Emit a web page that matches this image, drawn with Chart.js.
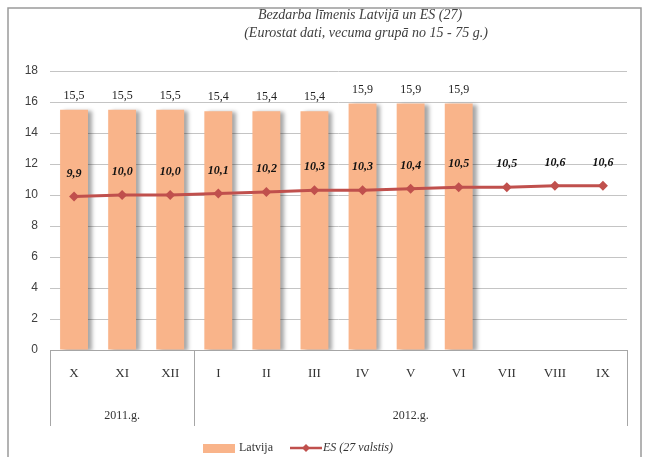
<!DOCTYPE html>
<html lang="lv">
<head>
<meta charset="UTF-8">
<title>Bezdarba līmenis Latvijā un ES (27)</title>
<script src="https://cdn.jsdelivr.net/npm/chart.js"></script>
<style>
  html, body { margin: 0; padding: 0; background: #fff; }
  #wrap { width: 652px; height: 457px; }
</style>
</head>
<body>
<div id="wrap"><canvas id="chart" width="652" height="457"></canvas></div>
<script>
// dati
var months = ['X', 'XI', 'XII', 'I', 'II', 'III', 'IV', 'V', 'VI', 'VII', 'VIII', 'IX'];
var latvija = [15.5, 15.5, 15.5, 15.4, 15.4, 15.4, 15.9, 15.9, 15.9, null, null, null];
var es27 = [9.9, 10.0, 10.0, 10.1, 10.2, 10.3, 10.3, 10.4, 10.5, 10.5, 10.6, 10.6];
var years = ['2011.g.', '2012.g.'];
var yearSpans = [3, 9];
var titleLines = ['Bezdarba līmenis Latvijā un ES (27)', '(Eurostat dati, vecuma grupā no 15 - 75 g.)'];
var legendNames = ['Latvija', 'ES (27 valstis)'];

var barColor = '#F9B48A';
var lineColor = '#C0504D';
var serif = '"Liberation Serif", "DejaVu Serif", serif';

function fmt(v) { return v.toFixed(1).replace('.', ','); }

var extras = {
    id: 'extras',
    beforeDatasetDraw: function(chart, args) {
        if (args.index === 0) {
            var ctx = chart.ctx;
            ctx.save();
            ctx.shadowColor = 'rgba(0,0,0,0.35)';
            ctx.shadowOffsetX = 4;
            ctx.shadowOffsetY = 1;
            ctx.shadowBlur = 4;
        }
    },
    afterDatasetDraw: function(chart, args) {
        if (args.index === 0) chart.ctx.restore();
    },
    afterDraw: function(chart) {
        var ctx = chart.ctx;
        var area = chart.chartArea;
        ctx.save();

        // rāmis
        ctx.strokeStyle = '#9a9a9a';
        ctx.lineWidth = 1.5;
        ctx.strokeRect(8, 8, 633, 470);

        // virsraksts
        ctx.fillStyle = '#404040';
        ctx.font = 'italic 14px ' + serif;
        ctx.textAlign = 'center';
        ctx.textBaseline = 'middle';
        ctx.fillText(titleLines[0], 360, 15);
        ctx.fillText(titleLines[1], 366, 33);

        // gadu rinda
        var bottom = area.bottom + 76;
        var step = (area.right - area.left) / months.length;
        ctx.strokeStyle = '#a6a6a6';
        ctx.lineWidth = 1;
        var start = 0;
        var edges = [area.left];
        for (var i = 0; i < years.length; i++) {
            var x0 = area.left + start * step;
            var x1 = area.left + (start + yearSpans[i]) * step;
            edges.push(x1);
            ctx.fillStyle = '#333';
            ctx.font = '12px ' + serif;
            ctx.fillText(years[i], (x0 + x1) / 2, area.bottom + 66);
            start += yearSpans[i];
        }
        edges.forEach(function(ex) {
            ctx.beginPath();
            ctx.moveTo(Math.round(ex) + 0.5, area.bottom);
            ctx.lineTo(Math.round(ex) + 0.5, bottom);
            ctx.stroke();
        });

        // vērtību uzraksti
        var barMeta = chart.getDatasetMeta(0);
        ctx.font = '12px ' + serif;
        ctx.fillStyle = '#222';
        barMeta.data.forEach(function(el, i) {
            if (latvija[i] == null) return;
            ctx.fillText(fmt(latvija[i]), el.x, el.y - 14);
        });
        var lineMeta = chart.getDatasetMeta(1);
        ctx.font = 'italic bold 12px ' + serif;
        ctx.fillStyle = '#111';
        lineMeta.data.forEach(function(el, i) {
            ctx.fillText(fmt(es27[i]), el.x, el.y - 23);
        });

        // leģenda
        var ly = 448;
        ctx.textAlign = 'left';
        ctx.fillStyle = barColor;
        ctx.fillRect(203, ly - 4, 32, 9);
        ctx.fillStyle = '#333';
        ctx.font = '12px ' + serif;
        ctx.fillText(legendNames[0], 239, ly);
        ctx.strokeStyle = lineColor;
        ctx.lineWidth = 2.5;
        ctx.beginPath(); ctx.moveTo(290, ly); ctx.lineTo(322, ly); ctx.stroke();
        ctx.fillStyle = lineColor;
        ctx.beginPath();
        ctx.moveTo(306, ly - 4); ctx.lineTo(310, ly); ctx.lineTo(306, ly + 4); ctx.lineTo(302, ly);
        ctx.closePath(); ctx.fill();
        ctx.fillStyle = '#333';
        ctx.font = 'italic 12px ' + serif;
        ctx.fillText(legendNames[1], 323, ly);
        ctx.restore();
    }
};

var chart = new Chart(document.getElementById('chart'), {
    data: {
        labels: months,
        datasets: [{
            type: 'bar',
            label: legendNames[0],
            data: latvija,
            backgroundColor: barColor,
            borderWidth: 0,
            barPercentage: 0.58,
            categoryPercentage: 1,
            order: 2
        }, {
            type: 'line',
            label: legendNames[1],
            data: es27,
            borderColor: lineColor,
            backgroundColor: lineColor,
            borderWidth: 3,
            pointStyle: 'rectRot',
            pointRadius: 5,
            pointBorderWidth: 0,
            tension: 0,
            order: 1
        }]
    },
    options: {
        responsive: false,
        animation: false,
        layout: { padding: { left: 8, right: 25, top: 71, bottom: 29 } },
        plugins: {
            tooltip: { enabled: false },
            title: { display: false },
            legend: { display: false }
        },
        scales: {
            x: {
                grid: { display: false },
                border: { display: true, color: '#a6a6a6' },
                ticks: {
                    color: '#333',
                    font: { family: serif, size: 13 },
                    padding: 8,
                    maxRotation: 0,
                    autoSkip: false
                },
                afterFit: function(s) { s.height = 78; }
            },
            y: {
                min: 0,
                max: 18,
                ticks: {
                    stepSize: 2,
                    color: '#404040',
                    font: { family: '"Liberation Sans", sans-serif', size: 12 },
                    padding: 12
                },
                grid: { color: '#c4c4c4', drawTicks: false },
                border: { display: false },
                afterFit: function(s) { s.width = 42; }
            }
        }
    },
    plugins: [extras]
});
</script>
</body>
</html>
